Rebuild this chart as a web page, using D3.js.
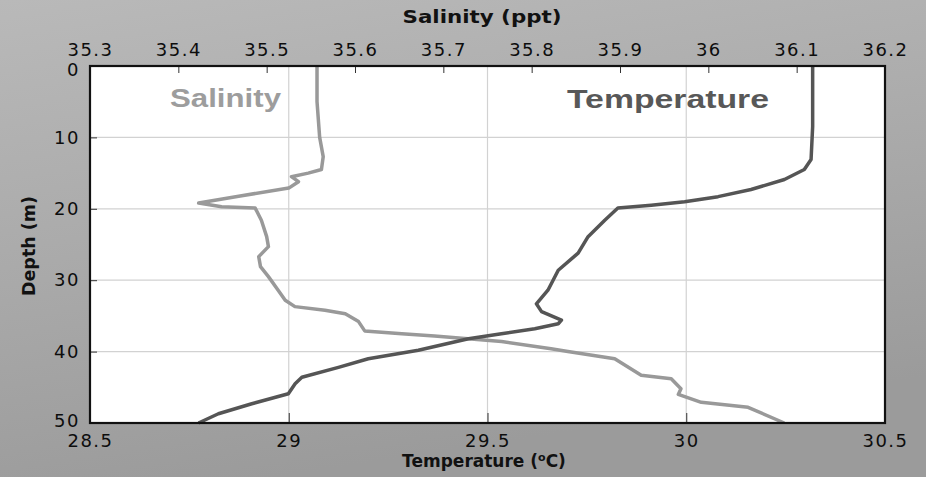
<!DOCTYPE html>
<html>
<head>
<meta charset="utf-8">
<script src="https://cdn.jsdelivr.net/npm/d3@7"></script>
<style>
  body { margin: 0; padding: 0; overflow: hidden; }
  svg { display: block; }
  .tick text { font-family: "DejaVu Sans", sans-serif; font-size: 18px; fill: #0d0d0d; letter-spacing: 1.5px; }
</style>
</head>
<body>
<svg width="926" height="477"></svg>
<script>
// Salinity profile (depth in m, salinity in ppt)
const salDepth  = [0, 5, 10, 12.7, 14.5, 15, 15.5, 16.2, 17.1, 18.2, 19.2, 19.7, 19.9, 21.6, 23.9, 25.3, 26.7, 28.1, 29.5, 31.4, 32.8, 33.7, 34.2, 34.7, 35.8, 37.1, 37.5, 37.8, 38.2, 38.6, 39.6, 40.0, 41.0, 43.3, 43.8, 45.2, 46.0, 47.1, 47.8, 50];
const salValues = [35.557, 35.557, 35.560, 35.564, 35.562, 35.547, 35.528, 35.536, 35.525, 35.47, 35.423, 35.449, 35.487, 35.494, 35.500, 35.502, 35.491, 35.493, 35.502, 35.513, 35.521, 35.532, 35.566, 35.589, 35.604, 35.611, 35.653, 35.690, 35.728, 35.766, 35.822, 35.841, 35.894, 35.924, 35.958, 35.969, 35.966, 35.992, 36.045, 36.086];

// Temperature profile (depth in m, temperature in C)
const tempDepth  = [0, 8.5, 13.1, 14.5, 15.9, 17.3, 18.3, 19.0, 19.5, 19.9, 21.6, 23.9, 26.2, 28.6, 30.0, 31.4, 33.3, 34.4, 35.6, 36.1, 36.8, 37.5, 38.2, 39.8, 41.0, 42.2, 43.6, 44.5, 45.9, 47.3, 48.7, 50];
const tempValues = [30.318, 30.318, 30.314, 30.297, 30.247, 30.163, 30.080, 29.996, 29.912, 29.828, 29.795, 29.753, 29.728, 29.678, 29.665, 29.652, 29.623, 29.636, 29.686, 29.678, 29.619, 29.535, 29.452, 29.326, 29.200, 29.125, 29.033, 29.016, 28.999, 28.907, 28.823, 28.773];

const salTicks   = [35.3, 35.4, 35.5, 35.6, 35.7, 35.8, 35.9, 36.0, 36.1, 36.2];
const tempTicks  = [28.5, 29, 29.5, 30, 30.5];
const depthTicks = [0, 10, 20, 30, 40, 50];

// plot box edges
const plotL = 90, plotR = 885, plotT = 66, plotB = 423;

const svg = d3.select("svg");

// Grey photo-like backdrop
const defs = svg.append("defs");
const grad = defs.append("linearGradient").attr("id", "bg")
    .attr("x1", 0).attr("y1", 0).attr("x2", 0.3).attr("y2", 1);
grad.append("stop").attr("offset", "0%").attr("stop-color", "#b9b9b9");
grad.append("stop").attr("offset", "55%").attr("stop-color", "#a9a9a9");
grad.append("stop").attr("offset", "100%").attr("stop-color", "#9b9b9b");
svg.append("rect").attr("width", 926).attr("height", 477).attr("fill", "url(#bg)");

// Plot area
svg.append("rect")
    .attr("x", plotL).attr("y", plotT)
    .attr("width", plotR - plotL).attr("height", plotB - plotT)
    .attr("fill", "#fff");

const xSal  = d3.scaleLinear().domain([35.3, 36.2]).range([plotL, plotR]);
const xTemp = d3.scaleLinear().domain([28.5, 30.5]).range([plotL, plotR]);
const y     = d3.scaleLinear().domain([0, 50]).range([plotT, plotB]);

// Grid lines (depth rows, temperature columns)
svg.append("g").selectAll("line").data(depthTicks.slice(1, -1)).join("line")
    .attr("x1", plotL).attr("x2", plotR)
    .attr("y1", d => y(d)).attr("y2", d => y(d))
    .attr("stroke", "#d2d2d2").attr("stroke-width", 1.2);
svg.append("g").selectAll("line").data(tempTicks.slice(1, -1)).join("line")
    .attr("x1", d => xTemp(d)).attr("x2", d => xTemp(d))
    .attr("y1", plotT).attr("y2", plotB)
    .attr("stroke", "#d2d2d2").attr("stroke-width", 1.2);

// Axes, ticks pointing inward
const topAxis = svg.append("g").attr("transform", `translate(0,${plotT})`)
    .call(d3.axisTop(xSal).tickValues(salTicks).tickFormat(d3.format("~g")).tickSize(-7).tickPadding(10));
const bottomAxis = svg.append("g").attr("transform", `translate(0,${plotB})`)
    .call(d3.axisBottom(xTemp).tickValues(tempTicks).tickFormat(d3.format("~g")).tickSize(-10).tickPadding(11));
const leftAxis = svg.append("g").attr("transform", `translate(${plotL},0)`)
    .call(d3.axisLeft(y).tickValues(depthTicks).tickSize(-7).tickPadding(10));

[topAxis, bottomAxis, leftAxis].forEach(ax => {
    ax.select(".domain").remove();
    ax.selectAll(".tick line").attr("stroke", "#333").attr("stroke-width", 1);
});
// the "0" sits a little lower, clear of "35.3"
leftAxis.selectAll(".tick text").filter(d => d === 0).attr("dy", "0.55em");
leftAxis.selectAll(".tick text").filter(d => d === 50).attr("dy", "0.2em");

// Profiles
const salData  = salDepth.map((d, i) => ({ d: d, v: salValues[i] }));
const tempData = tempDepth.map((d, i) => ({ d: d, v: tempValues[i] }));

svg.append("path").datum(salData)
    .attr("fill", "none").attr("stroke", "#999").attr("stroke-width", 3.5)
    .attr("stroke-linejoin", "round")
    .attr("d", d3.line().x(p => xSal(p.v)).y(p => y(p.d)));

svg.append("path").datum(tempData)
    .attr("fill", "none").attr("stroke", "#555").attr("stroke-width", 3.5)
    .attr("stroke-linejoin", "round")
    .attr("d", d3.line().x(p => xTemp(p.v)).y(p => y(p.d)));

// Frame
svg.append("rect")
    .attr("x", plotL).attr("y", plotT)
    .attr("width", plotR - plotL).attr("height", plotB - plotT)
    .attr("fill", "none").attr("stroke", "#111").attr("stroke-width", 2.2);

// Labels inside the plot
svg.append("text").attr("x", 170).attr("y", 107)
    .attr("font-family", "Liberation Sans, Arial, sans-serif").attr("font-weight", "bold")
    .attr("font-size", 25).attr("fill", "#9d9d9d")
    .attr("textLength", 111).attr("lengthAdjust", "spacingAndGlyphs")
    .text("Salinity");
svg.append("text").attr("x", 567).attr("y", 108)
    .attr("font-family", "Liberation Sans, Arial, sans-serif").attr("font-weight", "bold")
    .attr("font-size", 25).attr("fill", "#585858")
    .attr("textLength", 202).attr("lengthAdjust", "spacingAndGlyphs")
    .text("Temperature");

// Axis titles
svg.append("text").attr("x", 482).attr("y", 23)
    .attr("text-anchor", "middle")
    .attr("font-family", "DejaVu Sans, sans-serif").attr("font-weight", "bold")
    .attr("font-size", 17).attr("fill", "#111")
    .attr("textLength", 159).attr("lengthAdjust", "spacingAndGlyphs")
    .text("Salinity (ppt)");

const tTitle = svg.append("text").attr("x", 484).attr("y", 467)
    .attr("text-anchor", "middle")
    .attr("font-family", "DejaVu Sans, sans-serif").attr("font-weight", "bold")
    .attr("font-size", 17).attr("fill", "#111");
tTitle.append("tspan").text("Temperature (");
tTitle.append("tspan").attr("font-size", 11).attr("dy", -6).text("o");
tTitle.append("tspan").attr("dy", 6).text("C)");

svg.append("text")
    .attr("transform", "translate(35,246) rotate(-90)")
    .attr("text-anchor", "middle")
    .attr("font-family", "DejaVu Sans, sans-serif").attr("font-weight", "bold")
    .attr("font-size", 17).attr("fill", "#111")
    .attr("textLength", 100).attr("lengthAdjust", "spacingAndGlyphs")
    .text("Depth (m)");
</script>
</body>
</html>
